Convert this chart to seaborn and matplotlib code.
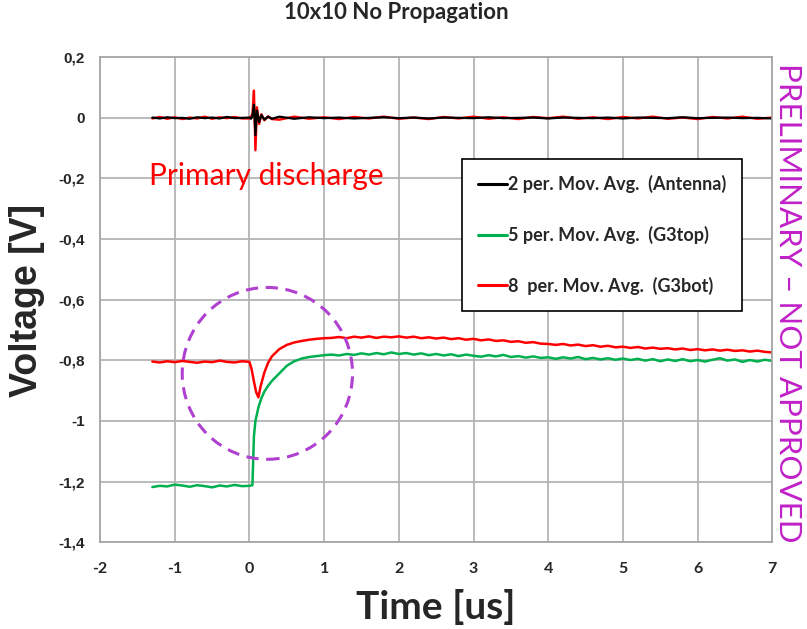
"""Voltage traces for the 10x10 no-propagation test."""
import seaborn as sns
import matplotlib.pyplot as plt
from matplotlib.patches import Ellipse

# time axis pieces (us)
pre_time = [-1.3, -1.2, -1.1, -1.0, -0.9, -0.8, -0.7, -0.6, -0.5, -0.4,
            -0.3, -0.2, -0.1, 0.0]
late_time = [1.1, 1.2, 1.3, 1.4, 1.5, 1.6, 1.7, 1.8, 1.9, 2.0,
             2.1, 2.2, 2.3, 2.4, 2.5, 2.6, 2.7, 2.8, 2.9, 3.0,
             3.1, 3.2, 3.3, 3.4, 3.5, 3.6, 3.7, 3.8, 3.9, 4.0,
             4.1, 4.2, 4.3, 4.4, 4.5, 4.6, 4.7, 4.8, 4.9, 5.0,
             5.1, 5.2, 5.3, 5.4, 5.5, 5.6, 5.7, 5.8, 5.9, 6.0,
             6.1, 6.2, 6.3, 6.4, 6.5, 6.6, 6.7, 6.8, 6.9, 7.0]

# antenna trace (top), black = moving average, red = raw
top_time = pre_time[:-1] + [0.0, 0.02, 0.04, 0.06, 0.08, 0.10, 0.13, 0.16,
                            0.2, 0.25, 0.3] + \
    [0.4, 0.6, 0.8, 1.0, 1.2, 1.4, 1.6, 1.8, 2.0, 2.2, 2.4, 2.6, 2.8, 3.0,
     3.2, 3.4, 3.6, 3.8, 4.0, 4.2, 4.4, 4.6, 4.8, 5.0, 5.2, 5.4, 5.6, 5.8,
     6.0, 6.2, 6.4, 6.6, 6.8, 7.0]
antenna_avg = [0.001, -0.002, 0.002, -0.001, 0.000, -0.003, 0.002, -0.001,
               0.001, -0.002, 0.003, -0.001, 0.000,
               0.001, -0.003, 0.006, 0.043, -0.057, 0.024, -0.014, 0.009,
               -0.006, 0.004, -0.003,
               0.004, -0.003, 0.002, -0.001, 0.001, -0.002, 0.000, 0.002,
               -0.001, 0.001, -0.002, 0.001, 0.000, -0.001, 0.002, -0.001,
               0.000, 0.001, -0.002, 0.001, 0.000, -0.001, 0.001, -0.002,
               0.001, 0.000, -0.001, 0.002, -0.001, 0.000, 0.001, -0.001,
               0.000, -0.002]
antenna_raw = [-0.002, 0.003, -0.003, 0.002, -0.004, 0.001, -0.002, 0.004,
               -0.003, 0.002, -0.001, 0.003, -0.002,
               -0.002, 0.004, 0.012, 0.090, -0.107, 0.035, -0.020, 0.012,
               -0.008, 0.005, -0.004,
               -0.006, 0.004, -0.003, 0.002, -0.004, 0.003, -0.002, 0.004,
               -0.003, 0.001, -0.004, 0.003, -0.002, 0.004, -0.003, 0.002,
               -0.004, 0.003, -0.001, 0.004, -0.003, 0.002, -0.004, 0.003,
               -0.002, 0.004, -0.003, 0.001, -0.004, 0.003, -0.002, 0.004,
               -0.003, 0.001]

# G3top (green)
g3top_time = pre_time + [0.04, 0.06, 0.08, 0.12, 0.16, 0.2, 0.25, 0.3, 0.4,
                         0.5, 0.6, 0.7, 0.8, 0.9, 1.0] + late_time
g3top = [-1.218, -1.214, -1.216, -1.210, -1.213, -1.217, -1.212, -1.215,
         -1.219, -1.213, -1.216, -1.211, -1.215, -1.214,
         -1.212, -1.050, -1.000, -0.955, -0.925, -0.903, -0.884, -0.868,
         -0.843, -0.818, -0.803, -0.794, -0.789, -0.786, -0.783,
         -0.781, -0.784, -0.779, -0.782, -0.777, -0.781, -0.776, -0.780,
         -0.774, -0.779, -0.776, -0.781, -0.777, -0.783, -0.779, -0.784,
         -0.780, -0.786, -0.781, -0.785, -0.788, -0.783, -0.787, -0.782,
         -0.789, -0.786, -0.791, -0.787, -0.792, -0.790, -0.795, -0.790,
         -0.794, -0.789, -0.796, -0.792, -0.797, -0.793, -0.798, -0.794,
         -0.799, -0.795, -0.801, -0.796, -0.803, -0.797, -0.802, -0.796,
         -0.803, -0.799, -0.804, -0.798, -0.793, -0.801, -0.797, -0.805,
         -0.799, -0.804, -0.798, -0.802]

# G3bot (red)
g3bot_time = pre_time + [0.03, 0.06, 0.09, 0.12, 0.15, 0.2, 0.25, 0.3, 0.4,
                         0.5, 0.6, 0.7, 0.8, 0.9, 1.0] + late_time
g3bot = [-0.804, -0.807, -0.803, -0.806, -0.802, -0.805, -0.808, -0.804,
         -0.806, -0.801, -0.805, -0.807, -0.803, -0.805,
         -0.830, -0.870, -0.905, -0.922, -0.885, -0.840, -0.808, -0.787,
         -0.763, -0.749, -0.741, -0.736, -0.732, -0.729, -0.727,
         -0.726, -0.723, -0.727, -0.722, -0.725, -0.721, -0.726, -0.722,
         -0.724, -0.721, -0.725, -0.722, -0.727, -0.724, -0.728, -0.725,
         -0.730, -0.727, -0.732, -0.729, -0.734, -0.731, -0.736, -0.734,
         -0.739, -0.737, -0.742, -0.740, -0.745, -0.746, -0.749, -0.746,
         -0.751, -0.748, -0.753, -0.750, -0.755, -0.752, -0.757, -0.755,
         -0.759, -0.756, -0.761, -0.758, -0.762, -0.760, -0.764, -0.761,
         -0.766, -0.763, -0.767, -0.764, -0.768, -0.765, -0.769, -0.767,
         -0.771, -0.768, -0.772, -0.774]

legend_labels = ['2 per. Mov. Avg.  (Antenna)',
                 '5 per. Mov. Avg.  (G3top)',
                 '8  per. Mov. Avg.  (G3bot)']
x_ticks = [-2, -1, 0, 1, 2, 3, 4, 5, 6, 7]
y_ticks = [-1.4, -1.2, -1.0, -0.8, -0.6, -0.4, -0.2, 0.0, 0.2]
y_ticklabels = ['-1,4', '-1,2', '-1', '-0,8', '-0,6', '-0,4', '-0,2', '0', '0,2']

sns.set_style("whitegrid", {'grid.color': '#b4b4b4', 'axes.edgecolor': '#a6a6a6'})
plt.rcParams['font.family'] = ['Lato', 'DejaVu Sans']

fig = plt.figure(figsize=(8.07, 6.29), dpi=100)
ax = fig.add_axes([0.124, 0.138, 0.833, 0.771])

sns.lineplot(x=top_time, y=antenna_raw, color='#ff0000', lw=1.7,
             sort=False, ax=ax)
sns.lineplot(x=top_time, y=antenna_avg, color='black', lw=1.6,
             sort=False, label=legend_labels[0], ax=ax)
sns.lineplot(x=g3top_time, y=g3top, color='#00b050', lw=1.8,
             sort=False, label=legend_labels[1], ax=ax)
sns.lineplot(x=g3bot_time, y=g3bot, color='#ff0000', lw=1.8,
             sort=False, label=legend_labels[2], ax=ax)

# highlight of the step region
ax.add_patch(Ellipse((0.24, -0.843), 2.28, 0.567, fill=False,
                     edgecolor='#b040d0', lw=2.2, ls=(0, (4, 2.5)), zorder=5))
ax.text(-1.35, -0.193, 'Primary discharge', color='#ff0000', fontsize=21.5,
        ha='left', va='center')

ax.set_xlim(-2, 7)
ax.set_ylim(-1.4, 0.2)
ax.set_xticks(x_ticks)
ax.set_xticklabels([str(t) for t in x_ticks], fontweight='bold', fontsize=11.5)
ax.set_yticks(y_ticks)
ax.set_yticklabels(y_ticklabels, fontweight='bold', fontsize=11,
                   family='Liberation Sans')
ax.tick_params(length=0)
ax.tick_params(axis='x', pad=14)
ax.tick_params(axis='y', pad=11)
ax.grid(True, lw=1.3)
for s in ax.spines.values():
    s.set_linewidth(1.3)

ax.set_xlabel('Time [us]', fontsize=28, fontweight='bold', va='center')
ax.xaxis.set_label_coords(0.5, -0.134)
ax.set_ylabel('Voltage [V]', fontsize=27, fontweight='bold', va='center',
              family='Liberation Sans')
ax.yaxis.set_label_coords(-0.109, 0.499)
ax.set_title('10x10 No Propagation', fontsize=16, fontweight='bold',
             x=0.44, y=1.076, va='center')

fig.text(0.976, 0.518, 'PRELIMINARY \u2013 NOT APPROVED', rotation=270,
         color='#c020c8', fontsize=22.5, ha='center', va='center')

leg = ax.legend(loc='upper right', bbox_to_anchor=(0.955, 0.79),
                fontsize=13, frameon=True, fancybox=False,
                edgecolor='black', framealpha=1, handlelength=1.6,
                handletextpad=0.05, labelspacing=1.8, borderpad=0.9,
                borderaxespad=0)
leg.get_frame().set_linewidth(1.2)
for t in leg.get_texts():
    t.set_fontweight('bold')
for h in leg.get_lines():
    h.set_linewidth(2.2)

fig.savefig('out.png', dpi=100)
